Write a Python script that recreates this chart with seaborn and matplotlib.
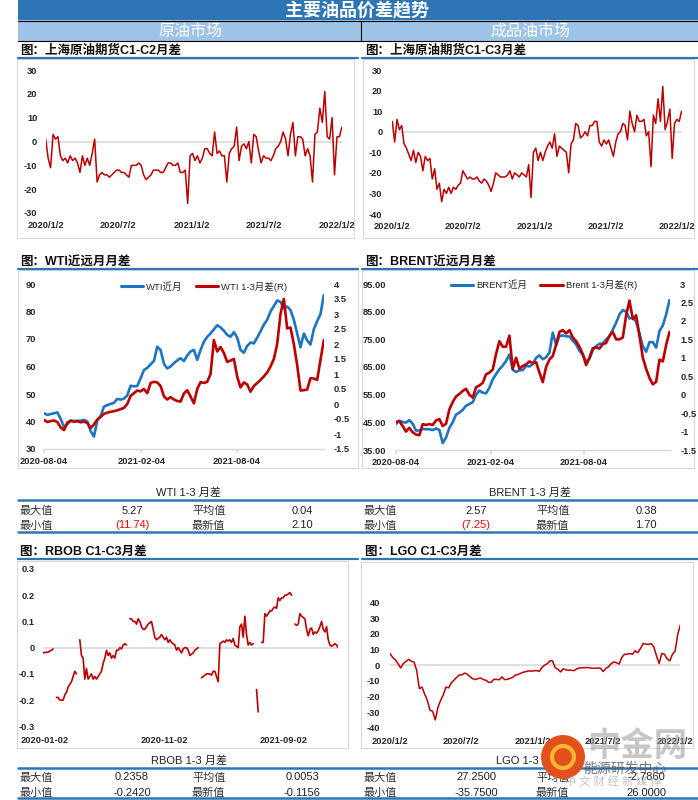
import matplotlib
matplotlib.use("Agg")
import numpy as np
import pandas as pd
import matplotlib.pyplot as plt
import matplotlib.dates as mdates
from matplotlib.patches import Rectangle, Ellipse
from matplotlib.lines import Line2D
import seaborn as sns

# ---------------- datos ----------------
SC12 = [1, -7, -11, 3, 1, 2, -6, -8, -7, -9,
        -6, -8, -7, -9, -13, -6, -10, -7, -10, -5,
        1, -17, -14, -13, -14, -14, -15, -14, -13, -12,
        -12, -13, -13, -14, -15, -10, -10, -10, -9, -10,
        -14, -16, -15, -14, -12, -12, -12, -13, -13, -11,
        -9, -9, -10, -10, -9, -13, -13, -12, -26, -6,
        -5, -8, -6, -9, -7, -3, -3, -5, -6, 4,
        -5, -4, -6, -6, -17, -5, -3, -2, 6, -8,
        -2, -1, -3, 0, -9, 3, 2, -4, -9, -6,
        -7, -7, -8, -6, -3, -2, 0, 4, 1, -6,
        3, 8, -6, 2, 2, 1, -6, -3, -6, -17,
        3, 4, 14, 8, 21, 2, 1, 10, -14, 2,
        2, 6]
SC13 = [5, -5, 6, 1, 3, -6, -8, -11, -14, -9,
        -15, -10, -12, -19, -12, -14, -13, -23, -18, -28,
        -25, -34, -28, -30, -27, -30, -27, -28, -26, -25,
        -19, -21, -23, -22, -23, -23, -22, -24, -25, -23,
        -24, -26, -29, -25, -20, -21, -22, -22, -22, -21,
        -19, -23, -20, -21, -22, -20, -21, -22, -16, -32,
        -10, -8, -14, -10, -14, -10, -7, -5, -8, -1,
        -12, -7, -8, -9, -10, -20, -6, -4, 4, 3,
        -3, -2, 0, -2, 3, 3, 5, 5, -5, -7,
        -4, -6, -4, -8, -12, -5, -1, 0, 4, 3,
        -4, 10, 4, 0, 8, 5, 5, 6, -2, 0,
        -17, 8, 4, 16, 5, 22, 1, 5, 11, -13,
        4, 6, 5, 10]
WTI_NEAR = [43, 42.4, 42.7, 43, 43.3, 41, 38, 39, 40.3, 40.2,
            40.2, 40.3, 40.6, 40, 36.5, 34.5, 40.5, 42, 45.4, 46,
            46.4, 46.8, 48.2, 48, 48.3, 49.5, 53, 52.8, 52.9, 55.7,
            58.7, 59.5, 60.8, 62, 67.2, 66, 61, 59.3, 60, 61.2,
            62.2, 63, 62, 64, 65.5, 66, 62.4, 66, 69, 70.8,
            72, 73.5, 75, 74.2, 73, 71.5, 70.8, 72.5, 70.5, 66,
            65, 67.5, 68.7, 68.4, 70.5, 72.8, 75.2, 77, 80, 82,
            84, 83.5, 81.2, 81.8, 80.5, 77, 72, 67, 72, 69.5,
            68, 73.5, 76.5, 79, 86]
WTI_SPREAD = [-0.53, -0.6, -0.57, -0.55, -0.6, -0.78, -0.87, -0.62, -0.56, -0.59,
              -0.57, -0.61, -0.59, -0.63, -0.8, -0.68, -0.52, -0.43, -0.33, -0.29,
              -0.26, -0.24, -0.21, -0.17, -0.13, 0.0, 0.27, 0.36, 0.45, 0.42,
              0.5, 0.36, 0.7, 0.74, 0.72, 0.6, 0.26, 0.15, 0.23, 0.15,
              0.1, 0.08, 0.35, 0.46, 0.25, 0.02, 0.5, 0.73, 0.7, 0.74,
              1.0, 2.13, 1.75, 1.9, 1.7, 1.4, 1.45, 1.5, 0.91, 0.55,
              0.72, 0.65, 0.41, 0.6, 0.7, 0.8, 0.92, 1.05, 1.25, 1.5,
              2.0, 3.0, 3.5, 2.52, 2.55, 2.0, 1.3, 0.45, 0.46, 0.48,
              0.86, 0.85, 0.8, 1.47, 2.13]
BRENT_NEAR = [44.4, 45.6, 45.1, 44.9, 45.8, 44.5, 42, 42.1, 42.6, 42.5,
              42.5, 42.2, 42.8, 42.2, 37.5, 39.5, 43, 45, 47.8, 48.5,
              49.5, 51, 51.6, 52.3, 55, 56.5, 55.7, 55.5, 57.5, 60.5,
              62.4, 64.2, 65.5, 67.2, 69.5, 64, 63.2, 63.8, 63.9, 65.4,
              65.2, 66, 68.3, 69.2, 67.8, 68.5, 70.2, 77.4, 73, 76.2,
              76.4, 76.1, 76, 74.5, 73.2, 70.8, 69.4, 66.9, 68, 71.1,
              72.5, 73.4, 73.5, 75, 76, 78.5, 81, 84, 85.6, 85,
              82.5, 83, 81.3, 77, 72.5, 70.5, 74, 74, 72, 78,
              80, 84, 89.2]
BRENT_SPREAD = [-0.74, -0.72, -0.85, -1.0, -0.9, -1.02, -1.08, -1.1, -0.8, -0.82,
                -0.8, -0.82, -0.7, -0.66, -0.85, -0.79, -0.4, -0.2, -0.05, 0.02,
                0.1, 0.16, 0.0, -0.08, 0.2, 0.25, 0.32, 0.55, 0.6, 0.68,
                1.1, 1.45, 1.3, 1.3, 1.6, 0.7, 1.0, 0.7, 0.78, 0.82,
                0.9, 0.86, 0.88, 0.6, 0.34, 0.75, 0.95, 1.05, 1.35, 1.7,
                1.75, 1.66, 1.75, 1.55, 1.45, 1.3, 1.1, 0.8, 1.0, 1.26,
                1.28, 1.25, 1.37, 1.4, 1.6, 1.7, 1.5, 1.5, 1.55, 2.15,
                2.55, 2.05, 2.15, 1.6, 1.0, 0.7, 0.45, 0.28, 0.35, 0.95,
                0.9, 1.35, 1.7]
RBOB = [-0.02, -0.018, -0.018, -0.017, -0.013, -0.01, -0.005,
        None,
        -0.19, -0.19, -0.2, -0.2, -0.2, -0.18, -0.17, -0.15, -0.14, -0.13, -0.11, -0.09, -0.1,
        None,
        0.03, -0.03, -0.04, -0.12, -0.08, -0.12, -0.11, -0.1, -0.12, -0.11,
        -0.12, -0.11, -0.1, -0.09, -0.06, -0.04, -0.01, -0.03, -0.02, -0.04,
        -0.03, -0.04, -0.01, -0.01, 0.0, -0.005, 0.01, 0.015, 0.01,
        None,
        0.11, 0.11, 0.1, 0.1, 0.09, 0.11, 0.1, 0.08, 0.07, 0.07,
        0.08, 0.09, 0.095, 0.1, 0.07, 0.04, 0.03, 0.035, 0.04, 0.05,
        0.04, 0.03, 0.04, 0.02, 0.03, 0.02, 0.015, 0.01, -0.01, 0.0,
        -0.01, -0.02, -0.005, 0.0, 0.0, -0.01, -0.03, -0.025, -0.02, -0.01,
        -0.005, 0.0,
        None,
        -0.115, -0.11, -0.105, -0.1, -0.1, -0.1, -0.105, -0.09, -0.09, -0.11,
        -0.13, 0.015, 0.02, 0.025, 0.02, 0.03, 0.025, 0.03, 0.02, 0.035,
        0.01, 0.005, 0.0, 0.08, 0.09, 0.04, 0.12, 0.05, 0.01, 0.02,
        0.01, 0.015,
        None,
        -0.16, -0.245,
        None,
        0.02, 0.02, 0.13, 0.12, 0.13, 0.14, 0.14, 0.15, 0.155, 0.15,
        0.19, 0.18, 0.19, 0.19, 0.2, 0.2, 0.205, 0.21, 0.2,
        None,
        0.09, 0.085, 0.09, 0.13, 0.12, 0.115, 0.11, 0.07, 0.045, 0.07,
        0.075, 0.05, 0.06, 0.055, 0.065, 0.08, 0.1, 0.07, 0.06, 0.08,
        0.03, 0.01, 0.005, 0.01, 0.015, 0.01, 0.0]
LGO = [7.5, 5, 3.4, 1, -1.8, 1.1, 2.4, 3.8, 2.5, 2,
       -3.2, -15, -14, -18.5, -22.5, -28.8, -29.5, -35, -27, -22.4,
       -19, -14, -14.5, -11.3, -9.6, -7.8, -6.2, -6.2, -5, -5.8,
       -7.3, -8.6, -9.2, -8.6, -8.2, -9.2, -9.6, -11, -10.9, -9,
       -9.1, -9.3, -7.5, -9.2, -9.1, -8.5, -7.8, -6.4, -6, -5.2,
       -4.5, -4.1, -3.6, -3.8, -3.6, -3.4, -4, -1.5, 0, 1,
       2.8, 2.8, -1.6, -2.5, -4.3, -2.3, -3, -3.2, -3.2, -3.5,
       -2.5, -1.8, -1.7, -1.6, -1.5, -1.7, -2, -1.9, -1.8, -2,
       -4, -2.1, -1, 1, 2.1, 1.5, 0.8, 5, 7, 7,
       7.5, 7, 9.3, 8, 10.7, 13.9, 13.5, 13.3, 13.8, 11.7,
       6, 1.1, 7.5, 7, 4, 2.8, 7, 9, 20, 26]

# fechas (inicio, fin) de cada serie
SC12_SPAN = ("2020-01-02", "2022-01-15")
SC13_SPAN = ("2020-01-02", "2022-01-13")
WTI_SPAN = ("2020-08-04", "2022-01-16")
BRENT_SPAN = ("2020-08-04", "2022-01-17")
RBOB_SPAN = ("2019-12-30", "2022-01-20")
LGO_SPAN = ("2020-01-02", "2022-01-16")

TICKS_SC = ["2020-01-02", "2020-07-02", "2021-01-02", "2021-07-02", "2022-01-02"]
LABELS_SC = ["2020/1/2", "2020/7/2", "2021/1/2", "2021/7/2", "2022/1/2"]
TICKS_WB = ["2020-08-04", "2021-02-04", "2021-08-04"]
TICKS_RBOB = ["2020-01-02", "2020-11-02", "2021-09-02"]

WTI_STATS = ["5.27", "0.04", "(11.74)", "2.10"]
BRENT_STATS = ["2.57", "0.38", "(7.25)", "1.70"]
RBOB_STATS = ["0.2358", "0.0053", "-0.2420", "-0.1156"]
LGO_STATS = ["27.2500", "-2.7860", "-35.7500", "26.0000"]

# ---------------- estilo ----------------
sns.set_theme(style="white")
plt.rcParams["font.family"] = ["Liberation Sans", "Noto Sans CJK SC", "DejaVu Sans"]
plt.rcParams["axes.unicode_minus"] = False

RED = "#C00000"
BLUE = "#1B75C4"
BAR = "#2E75B6"
GRID = "#D9D9D9"

W, H = 698, 800
fig = plt.figure(figsize=(W / 100, H / 100), dpi=100)


def fx(px):
    return px / W


def fy(py):
    return 1 - py / H


def frect(x0, y0, x1, y1, **kw):
    fig.patches.append(Rectangle((fx(x0), fy(y1)), fx(x1) - fx(x0), fy(y0) - fy(y1),
                                 transform=fig.transFigure, **kw))


def fline(x0, x1, y0, y1, color, lw):
    fig.add_artist(Line2D([fx(x0), fx(x1)], [fy(y0), fy(y1)],
                          transform=fig.transFigure, color=color, lw=lw))


def ftext(x, y, s, **kw):
    fig.text(fx(x), fy(y), s, **kw)


def make_axes(xref, xpx, yref, ypx, span, ylim):
    xr = [mdates.date2num(pd.Timestamp(d)) for d in xref]
    xl = [mdates.date2num(pd.Timestamp(d)) for d in span]
    sx = (xpx[1] - xpx[0]) / (xr[1] - xr[0])
    sy = (ypx[1] - ypx[0]) / (yref[1] - yref[0])
    left = xpx[0] + (xl[0] - xr[0]) * sx
    right = xpx[0] + (xl[1] - xr[0]) * sx
    top = ypx[0] + (ylim[1] - yref[0]) * sy
    bottom = ypx[0] + (ylim[0] - yref[0]) * sy
    ax = fig.add_axes([fx(left), fy(bottom), fx(right) - fx(left), fy(top) - fy(bottom)])
    ax.set_zorder(5)
    ax.patch.set_alpha(0)
    for s in ax.spines.values():
        s.set_visible(False)
    return ax


def finish(ax, span, ylim, yticks, ylabels, ypad, xticks, xlabels, xpad):
    ax.set_xlim(pd.Timestamp(span[0]), pd.Timestamp(span[1]))
    ax.set_ylim(*ylim)
    ax.set_yticks(yticks)
    ax.set_yticklabels(ylabels, fontsize=6.7, fontweight="bold")
    ax.tick_params(axis="y", length=0, pad=ypad)
    ax.set_xticks([pd.Timestamp(t) for t in xticks])
    ax.set_xticklabels(xlabels, fontsize=6.7, fontweight="bold")
    ax.tick_params(axis="x", length=0, pad=xpad)
    ax.set_xlabel("")
    ax.set_ylabel("")
    ax.grid(False)


def dates(span, n):
    return pd.date_range(span[0], span[1], periods=n)


# ---------------- cabecera ----------------
frect(18, 0, 698, 20.5, facecolor=BAR, edgecolor="none", zorder=-2)
frect(18, 20.5, 698, 40.5, facecolor="#9DC3E6", edgecolor="none", zorder=-2)
fline(18, 698, 20.5, 20.5, "black", 0.8)
fline(18, 698, 40.5, 40.5, "black", 0.8)
fline(361, 361, 20.5, 40.5, "black", 0.8)
ftext(357, 10.5, "主要油品价差趋势", color="white", fontsize=13, fontweight="bold",
      ha="center", va="center")
ftext(190, 31, "原油市场", color="white", fontsize=11.5, ha="center", va="center")
ftext(530, 31, "成品油市场", color="white", fontsize=11.5, ha="center", va="center")

# títulos de gráfico y cajas
titles = [(20, 51, "图：上海原油期货C1-C2月差"), (365, 51, "图：上海原油期货C1-C3月差"),
          (20, 262, "图：WTI近远月月差"), (365, 262, "图：BRENT近远月月差"),
          (20, 552, "图：RBOB C1-C3月差"), (365, 552, "图：LGO C1-C3月差")]
for x, y, t in titles:
    ftext(x, y, t, fontsize=9, fontweight="bold", ha="left", va="center", color="#111111")
for y in (57.5, 268.5, 558.5):
    fline(18, 358, y, y, BAR, 1.6)
    fline(362, 698, y, y, BAR, 1.6)

boxes = [(17, 58.5, 354, 238), (363, 59, 694, 238), (18, 270, 358, 468),
         (362, 270, 694, 468), (17, 561, 348, 748), (361, 562, 693, 748)]
for b in boxes:
    frect(*b, facecolor="white", edgecolor=GRID, lw=0.8, zorder=-1)

# ---------------- SC C1-C2 ----------------
ax1 = make_axes(("2020-01-02", "2022-01-02"), (45.7, 336.7), (30, -30), (70, 213), SC12_SPAN, (-30, 30))
ax1.axhline(0, color=GRID, lw=1.2, zorder=0)
sns.lineplot(x=dates(SC12_SPAN, len(SC12)), y=SC12, ax=ax1, color=RED, lw=1.1,
             estimator=None, sort=False)
finish(ax1, SC12_SPAN, (-30, 30), [-30, -20, -10, 0, 10, 20, 30],
       ["-30", "-20", "-10", "0", "10", "20", "30"], 6, TICKS_SC, LABELS_SC, 5.8)

# ---------------- SC C1-C3 ----------------
ax2 = make_axes(("2020-01-02", "2022-01-02"), (392.3, 677.3), (30, -40), (70, 214), SC13_SPAN, (-40, 30))
ax2.axhline(0, color=GRID, lw=1.2, zorder=0)
sns.lineplot(x=dates(SC13_SPAN, len(SC13)), y=SC13, ax=ax2, color=RED, lw=1.1,
             estimator=None, sort=False)
finish(ax2, SC13_SPAN, (-40, 30), [-40, -30, -20, -10, 0, 10, 20, 30],
       ["-40", "-30", "-20", "-10", "0", "10", "20", "30"], 7, TICKS_SC, LABELS_SC, 6)


# ---------------- WTI / BRENT ----------------
def dual_chart(xpx, ypx, span, near, spread, lylim, lticks, lfmt, rylim, rticks,
               lpad, rpad, names, leg_xy):
    ax = make_axes(("2020-08-04", "2021-08-04"), xpx, (lylim[1], lylim[0]), ypx, span, lylim)
    d = dates(span, len(near))
    sns.lineplot(x=d, y=near, ax=ax, color=BLUE, lw=1.9, estimator=None, sort=False)
    finish(ax, span, lylim, lticks, [lfmt.format(v) for v in lticks], lpad,
           TICKS_WB, TICKS_WB, 3)
    ax.spines["bottom"].set_visible(True)
    ax.spines["bottom"].set_color(GRID)
    ax.spines["bottom"].set_linewidth(1.0)
    ax.tick_params(axis="x", length=3, color=GRID, direction="out", bottom=True)
    axr = ax.twinx()
    axr.set_zorder(6)
    axr.patch.set_alpha(0)
    for s in axr.spines.values():
        s.set_visible(False)
    sns.lineplot(x=d, y=spread, ax=axr, color=RED, lw=1.9, estimator=None, sort=False)
    axr.set_ylim(*rylim)
    axr.set_yticks(rticks)
    axr.set_yticklabels([f"{v:g}" for v in rticks], fontsize=6.7, fontweight="bold")
    axr.tick_params(axis="y", length=0, pad=rpad)
    axr.set_ylabel("")
    axr.grid(False)
    handles = [Line2D([], [], color=BLUE, lw=2.2), Line2D([], [], color=RED, lw=2.2)]
    leg = axr.legend(handles, names, ncol=2, frameon=False, loc="center",
                     bbox_to_anchor=(fx(leg_xy[0]), fy(leg_xy[1])), bbox_transform=fig.transFigure,
                     prop={"size": 6.8}, handlelength=2.4, handletextpad=0.3, columnspacing=1.4)
    return ax


dual_chart((44, 236.7), (284, 449), WTI_SPAN, WTI_NEAR, WTI_SPREAD,
           (30, 90), [30, 40, 50, 60, 70, 80, 90], "{:d}",
           (-1.5, 4), [-1.5, -1, -0.5, 0, 0.5, 1, 1.5, 2, 2.5, 3, 3.5, 4],
           5.8, 7, ["WTI近月", "WTI 1-3月差(R)"], (204, 286.5))
dual_chart((396, 584), (284, 450), BRENT_SPAN, BRENT_NEAR, BRENT_SPREAD,
           (35, 95), [35, 45, 55, 65, 75, 85, 95], "{:.2f}",
           (-1.5, 3), [-1.5, -1, -0.5, 0, 0.5, 1, 1.5, 2, 2.5, 3],
           7, 7.7, ["BRENT近月", "Brent 1-3月差(R)"], (544, 285))

# ---------------- RBOB ----------------
rb = pd.DataFrame({"date": dates(RBOB_SPAN, len(RBOB)),
                   "v": [np.nan if v is None else v for v in RBOB]})
rb["seg"] = rb["v"].isna().cumsum()
rb = rb.dropna()
ax5 = make_axes(("2020-01-02", "2021-09-02"), (44.3, 283.3), (0.3, -0.3), (569, 726.3),
                RBOB_SPAN, (-0.3, 0.3))
ax5.axhline(0, color=GRID, lw=1.2, zorder=0)
sns.lineplot(data=rb, x="date", y="v", units="seg", estimator=None, ax=ax5, color=RED,
             lw=1.2, sort=False)
finish(ax5, RBOB_SPAN, (-0.3, 0.3), [-0.3, -0.2, -0.1, 0, 0.1, 0.2, 0.3],
       ["-0.3", "-0.2", "-0.1", "0", "0.1", "0.2", "0.3"], 6, TICKS_RBOB, TICKS_RBOB, 7)

# ---------------- LGO ----------------
ax6 = make_axes(("2020-01-02", "2022-01-02"), (390, 675), (40, -40), (602.7, 727.7), LGO_SPAN, (-40, 40))
ax6.axhline(0, color=GRID, lw=1.2, zorder=0)
sns.lineplot(x=dates(LGO_SPAN, len(LGO)), y=LGO, ax=ax6, color=RED, lw=1.1,
             estimator=None, sort=False)
finish(ax6, LGO_SPAN, (-40, 40), [-40, -30, -20, -10, 0, 10, 20, 30, 40],
       ["-40", "-30", "-20", "-10", "0", "10", "20", "30", "40"], 7, TICKS_SC, LABELS_SC, 6.7)


# ---------------- tablas ----------------
def stats_table(y_head, y_top, y_r1, y_r2, y_bot, left, right, red_min):
    fline(18, 698, y_top, y_top, BAR, 1.8)
    fline(18, 698, y_bot, y_bot, BAR, 1.8)
    for (title, vals), x0, xc in ((left, 0, 189), (right, 344, 530)):
        ftext(xc, y_head, title, fontsize=8, ha="center", va="center", color="#222222")
        ftext(20 + x0, y_r1, "最大值", fontsize=8, ha="left", va="center", color="#333333")
        ftext(20 + x0, y_r2, "最小值", fontsize=8, ha="left", va="center", color="#333333")
        ftext(192 + x0, y_r1, "平均值", fontsize=8, ha="left", va="center", color="#333333")
        ftext(192 + x0, y_r2, "最新值", fontsize=8, ha="left", va="center", color="#333333")
        ftext(132 + x0, y_r1, vals[0], fontsize=8, ha="center", va="center", color="#222222")
        ftext(302 + x0, y_r1, vals[1], fontsize=8, ha="center", va="center", color="#222222")
        ftext(132 + x0, y_r2, vals[2], fontsize=8, ha="center", va="center",
              color="#FF0000" if red_min else "#222222")
        ftext(302 + x0, y_r2, vals[3], fontsize=8, ha="center", va="center", color="#222222")


stats_table(493, 499.5, 510.5, 525.5, 532, ("WTI 1-3 月差", WTI_STATS),
            ("BRENT 1-3 月差", BRENT_STATS), True)
stats_table(761, 768, 777.5, 792.5, 798, ("RBOB 1-3 月差", RBOB_STATS),
            ("LGO 1-3 月差", LGO_STATS), False)

# ---------------- marca de agua ----------------
fig.patches.append(Ellipse((fx(563), fy(757)), 44 / W, 44 / H, transform=fig.transFigure,
                           facecolor="#E4501C", edgecolor="none", zorder=20))
fig.patches.append(Ellipse((fx(563), fy(757)), 22 / W, 22 / H, transform=fig.transFigure,
                           facecolor="none", edgecolor="#F7B733", lw=3, zorder=21))
ftext(637, 747, "中金网", fontsize=24, fontweight="bold", color="#9A9A9A", alpha=0.55,
      ha="center", va="center", zorder=22)
ftext(625, 769, "能源研发中心", fontsize=10, color="#555555", alpha=0.8,
      ha="center", va="center", zorder=22)
ftext(613, 781, "中 文 财 经 新 媒 体", fontsize=8, color="#9A9A9A", alpha=0.6,
      ha="center", va="center", zorder=22)

fig.savefig("out.png", dpi=100)
